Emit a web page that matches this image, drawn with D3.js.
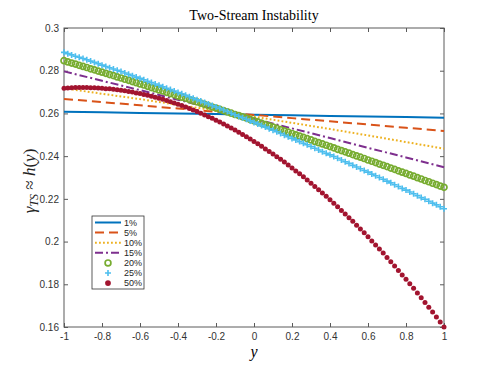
<!DOCTYPE html>
<html>
<head>
<meta charset="utf-8">
<script src="https://cdn.jsdelivr.net/npm/d3@7"></script>
<style>
body { margin: 0; background: #fff; }
svg { display: block; }
</style>
</head>
<body>
<div class="chart"></div>
<script>
// ======== data ========
var percents = ["1%", "5%", "10%", "15%", "20%", "25%", "50%"];

// coarse grid for the plain lines
var yCoarse = [-1, -0.8, -0.6, -0.4, -0.2, 0, 0.2, 0.4, 0.6, 0.8, 1];
var h1  = [0.2608, 0.2605, 0.2602, 0.2600, 0.2597, 0.2594, 0.2591, 0.2588, 0.2586, 0.2583, 0.2580];
var h5  = [0.2668, 0.2653, 0.2638, 0.2623, 0.2608, 0.2593, 0.2578, 0.2563, 0.2548, 0.2533, 0.2518];
var h10 = [0.2718, 0.2692, 0.2667, 0.2640, 0.2613, 0.2585, 0.2556, 0.2527, 0.2497, 0.2466, 0.2435];
var h15 = [0.2797, 0.2753, 0.2709, 0.2664, 0.2620, 0.2575, 0.2530, 0.2485, 0.2439, 0.2394, 0.2348];

// fine grid for the marker series (one marker every 0.02)
var yFine = [-1, -0.98, -0.96, -0.94, -0.92, -0.9, -0.88, -0.86, -0.84, -0.82,
  -0.8, -0.78, -0.76, -0.74, -0.72, -0.7, -0.68, -0.66, -0.64, -0.62,
  -0.6, -0.58, -0.56, -0.54, -0.52, -0.5, -0.48, -0.46, -0.44, -0.42,
  -0.4, -0.38, -0.36, -0.34, -0.32, -0.3, -0.28, -0.26, -0.24, -0.22,
  -0.2, -0.18, -0.16, -0.14, -0.12, -0.1, -0.08, -0.06, -0.04, -0.02,
  0,
  0.02, 0.04, 0.06, 0.08, 0.1, 0.12, 0.14, 0.16, 0.18, 0.2,
  0.22, 0.24, 0.26, 0.28, 0.3, 0.32, 0.34, 0.36, 0.38, 0.4,
  0.42, 0.44, 0.46, 0.48, 0.5, 0.52, 0.54, 0.56, 0.58, 0.6,
  0.62, 0.64, 0.66, 0.68, 0.7, 0.72, 0.74, 0.76, 0.78, 0.8,
  0.82, 0.84, 0.86, 0.88, 0.9, 0.92, 0.94, 0.96, 0.98, 1];

var h20 = [0.2847, 0.2841, 0.2836, 0.2831, 0.2825, 0.2820, 0.2815, 0.2809, 0.2804, 0.2798,
  0.2793, 0.2788, 0.2782, 0.2777, 0.2771, 0.2766, 0.2760, 0.2755, 0.2749, 0.2744,
  0.2738, 0.2733, 0.2727, 0.2721, 0.2716, 0.2710, 0.2705, 0.2699, 0.2693, 0.2688,
  0.2682, 0.2676, 0.2671, 0.2665, 0.2659, 0.2654, 0.2648, 0.2642, 0.2636, 0.2630,
  0.2625, 0.2619, 0.2613, 0.2607, 0.2601, 0.2595, 0.2590, 0.2584, 0.2578, 0.2572,
  0.2566,
  0.2560, 0.2554, 0.2548, 0.2542, 0.2536, 0.2530, 0.2524, 0.2518, 0.2512, 0.2506,
  0.2500, 0.2494, 0.2488, 0.2482, 0.2476, 0.2469, 0.2463, 0.2457, 0.2451, 0.2445,
  0.2439, 0.2432, 0.2426, 0.2420, 0.2414, 0.2407, 0.2401, 0.2395, 0.2389, 0.2382,
  0.2376, 0.2370, 0.2363, 0.2357, 0.2351, 0.2344, 0.2338, 0.2331, 0.2325, 0.2319,
  0.2312, 0.2306, 0.2299, 0.2293, 0.2286, 0.2280, 0.2273, 0.2267, 0.2260, 0.2254];

var h25 = [0.2886, 0.2880, 0.2874, 0.2868, 0.2863, 0.2857, 0.2851, 0.2845, 0.2839, 0.2833,
  0.2826, 0.2820, 0.2814, 0.2808, 0.2802, 0.2796, 0.2789, 0.2783, 0.2777, 0.2770,
  0.2764, 0.2758, 0.2751, 0.2745, 0.2738, 0.2732, 0.2725, 0.2718, 0.2712, 0.2705,
  0.2698, 0.2692, 0.2685, 0.2678, 0.2671, 0.2664, 0.2658, 0.2651, 0.2644, 0.2637,
  0.2630, 0.2623, 0.2616, 0.2609, 0.2601, 0.2594, 0.2587, 0.2580, 0.2573, 0.2565,
  0.2558,
  0.2551, 0.2543, 0.2536, 0.2528, 0.2521, 0.2514, 0.2506, 0.2498, 0.2491, 0.2483,
  0.2476, 0.2468, 0.2460, 0.2453, 0.2445, 0.2437, 0.2429, 0.2421, 0.2413, 0.2406,
  0.2398, 0.2390, 0.2382, 0.2374, 0.2366, 0.2357, 0.2349, 0.2341, 0.2333, 0.2325,
  0.2316, 0.2308, 0.2300, 0.2292, 0.2283, 0.2275, 0.2266, 0.2258, 0.2249, 0.2241,
  0.2232, 0.2224, 0.2215, 0.2206, 0.2198, 0.2189, 0.2180, 0.2172, 0.2163, 0.2154];

var h50 = [0.2718, 0.2719, 0.2720, 0.2721, 0.2721, 0.2721, 0.2721, 0.2720, 0.2720, 0.2719,
  0.2718, 0.2716, 0.2715, 0.2713, 0.2711, 0.2708, 0.2706, 0.2703, 0.2700, 0.2696,
  0.2693, 0.2689, 0.2685, 0.2680, 0.2676, 0.2671, 0.2666, 0.2661, 0.2655, 0.2649,
  0.2643, 0.2637, 0.2630, 0.2623, 0.2616, 0.2609, 0.2601, 0.2593, 0.2585, 0.2577,
  0.2568, 0.2560, 0.2551, 0.2541, 0.2532, 0.2522, 0.2512, 0.2501, 0.2491, 0.2480,
  0.2469,
  0.2458, 0.2446, 0.2434, 0.2422, 0.2410, 0.2397, 0.2385, 0.2372, 0.2358, 0.2345,
  0.2331, 0.2317, 0.2303, 0.2288, 0.2273, 0.2258, 0.2243, 0.2228, 0.2212, 0.2196,
  0.2180, 0.2163, 0.2146, 0.2129, 0.2112, 0.2095, 0.2077, 0.2059, 0.2041, 0.2022,
  0.2003, 0.1984, 0.1965, 0.1946, 0.1926, 0.1906, 0.1886, 0.1865, 0.1844, 0.1823,
  0.1802, 0.1781, 0.1759, 0.1737, 0.1715, 0.1692, 0.1670, 0.1647, 0.1623, 0.1600];

var xTicks = [-1, -0.8, -0.6, -0.4, -0.2, 0, 0.2, 0.4, 0.6, 0.8, 1];
var xTickLabels = ["-1", "-0.8", "-0.6", "-0.4", "-0.2", "0", "0.2", "0.4", "0.6", "0.8", "1"];
var yTicks = [0.16, 0.18, 0.2, 0.22, 0.24, 0.26, 0.28, 0.3];
var yTickLabels = ["0.16", "0.18", "0.2", "0.22", "0.24", "0.26", "0.28", "0.3"];

// ======== styles (matlab default colour order) ========
var series = [
  {name: percents[0], xs: yCoarse, ys: h1,  color: "#0072BD", kind: "line", dash: null},
  {name: percents[1], xs: yCoarse, ys: h5,  color: "#D95319", kind: "line", dash: "9,5"},
  {name: percents[2], xs: yCoarse, ys: h10, color: "#EDB120", kind: "line", dash: "1.8,2.2"},
  {name: percents[3], xs: yCoarse, ys: h15, color: "#7E2F8E", kind: "line", dash: "8,3,2,3"},
  {name: percents[4], xs: yFine, ys: h20, color: "#77AC30", kind: "circle"},
  {name: percents[5], xs: yFine, ys: h25, color: "#4DBEEE", kind: "plus"},
  {name: percents[6], xs: yFine, ys: h50, color: "#A2142F", kind: "dot"}
];

var width = 491, height = 368;
// plot box (can't call it "top": window.top is read-only)
var boxLeft = 64, boxRight = 444, boxTop = 28, boxBottom = 327;

var x = d3.scaleLinear().domain([-1, 1]).range([boxLeft, boxRight]);
var y = d3.scaleLinear().domain([0.16, 0.3]).range([boxBottom, boxTop]);

var svg = d3.select(".chart").append("svg")
  .attr("width", width)
  .attr("height", height);

// box around the axes
svg.append("rect")
  .attr("x", boxLeft).attr("y", boxTop)
  .attr("width", boxRight - boxLeft).attr("height", boxBottom - boxTop)
  .attr("fill", "none")
  .attr("stroke", "#5a5a5a")
  .attr("stroke-width", 1);

// ticks on all four sides, pointing inward
function styleAxis(g) {
  g.select(".domain").remove();
  g.selectAll(".tick line").attr("stroke", "#5a5a5a");
  g.selectAll(".tick text")
    .attr("fill", "#333")
    .style("font-family", "'Liberation Sans', Arial, sans-serif")
    .style("font-size", "10px");
}

svg.append("g")
  .attr("transform", "translate(0," + boxBottom + ")")
  .call(d3.axisBottom(x).tickValues(xTicks).tickSize(-4).tickPadding(6)
    .tickFormat(function (d, i) { return xTickLabels[i]; }))
  .call(styleAxis);

svg.append("g")
  .attr("transform", "translate(0," + boxTop + ")")
  .call(d3.axisTop(x).tickValues(xTicks).tickSize(-4).tickFormat(""))
  .call(styleAxis);

svg.append("g")
  .attr("transform", "translate(" + boxLeft + ",0)")
  .call(d3.axisLeft(y).tickValues(yTicks).tickSize(-4).tickPadding(5)
    .tickFormat(function (d, i) { return yTickLabels[i]; }))
  .call(styleAxis);

svg.append("g")
  .attr("transform", "translate(" + boxRight + ",0)")
  .call(d3.axisRight(y).tickValues(yTicks).tickSize(-4).tickFormat(""))
  .call(styleAxis);

// marker shapes
function drawMarker(sel, kind, color, size) {
  if (kind == "circle") {
    sel.append("circle").attr("r", size)
      .attr("fill", "none").attr("stroke", color).attr("stroke-width", 1.7);
  } else if (kind == "plus") {
    sel.append("path")
      .attr("d", "M" + (-size) + ",0H" + size + "M0," + (-size) + "V" + size)
      .attr("stroke", color).attr("stroke-width", 1.6);
  } else if (kind == "dot") {
    sel.append("circle").attr("r", size).attr("fill", color);
  }
}

var line = d3.line()
  .x(function (d) { return x(d[0]); })
  .y(function (d) { return y(d[1]); });

// data
series.forEach(function (s) {
  var pts = s.xs.map(function (v, i) { return [v, s.ys[i]]; });
  if (s.kind == "line") {
    svg.append("path")
      .datum(pts)
      .attr("d", line)
      .attr("fill", "none")
      .attr("stroke", s.color)
      .attr("stroke-width", 2)
      .attr("stroke-dasharray", s.dash);
  } else {
    var size = s.kind == "dot" ? 2.5 : (s.kind == "plus" ? 3 : 3);
    svg.append("g").selectAll("g")
      .data(pts)
      .enter().append("g")
      .attr("transform", function (d) { return "translate(" + x(d[0]) + "," + y(d[1]) + ")"; })
      .each(function () { drawMarker(d3.select(this), s.kind, s.color, size); });
  }
});

// title and axis labels
svg.append("text")
  .attr("x", (boxLeft + boxRight) / 2).attr("y", 20)
  .attr("text-anchor", "middle")
  .style("font-family", "'Liberation Serif', 'DejaVu Serif', serif")
  .style("font-size", "14px")
  .text("Two-Stream Instability");

svg.append("text")
  .attr("x", (boxLeft + boxRight) / 2).attr("y", 357)
  .attr("text-anchor", "middle")
  .style("font-family", "'Liberation Serif', serif")
  .style("font-style", "italic")
  .style("font-size", "16px")
  .text("y");

var ylab = svg.append("text")
  .attr("transform", "translate(35,181) rotate(-90)")
  .attr("text-anchor", "middle")
  .attr("fill", "#222")
  .style("font-family", "'Liberation Serif', serif")
  .style("font-size", "17px");
ylab.append("tspan").style("font-style", "italic").text("γ");
ylab.append("tspan").style("font-style", "italic").style("font-size", "12px").attr("dy", 3).text("TS");
ylab.append("tspan").attr("dy", -3).text(" ≈ ");
ylab.append("tspan").style("font-style", "italic").text("h");
ylab.append("tspan").text("(");
ylab.append("tspan").style("font-style", "italic").text("y");
ylab.append("tspan").text(")");

// legend
var legend = svg.append("g").attr("transform", "translate(92,216)");
legend.append("rect")
  .attr("width", 52).attr("height", 73)
  .attr("fill", "#fff")
  .attr("stroke", "#333")
  .attr("stroke-width", 0.8);

var rows = legend.selectAll(".row")
  .data(series)
  .enter().append("g")
  .attr("class", "row")
  .attr("transform", function (d, i) { return "translate(0," + (6.5 + i * 10.1) + ")"; });

rows.each(function (s) {
  var g = d3.select(this);
  if (s.kind == "line") {
    g.append("line")
      .attr("x1", 3).attr("x2", 29)
      .attr("stroke", s.color).attr("stroke-width", 2)
      .attr("stroke-dasharray", s.dash);
  } else {
    var m = g.append("g").attr("transform", "translate(16,0)");
    drawMarker(m, s.kind, s.color, s.kind == "plus" ? 3 : 2.9);
  }
  g.append("text")
    .attr("x", 32).attr("dy", "0.35em")
    .attr("fill", "#262626")
    .style("font-family", "'Liberation Sans', Arial, sans-serif")
    .style("font-size", "9px")
    .text(s.name);
});
</script>
</body>
</html>
